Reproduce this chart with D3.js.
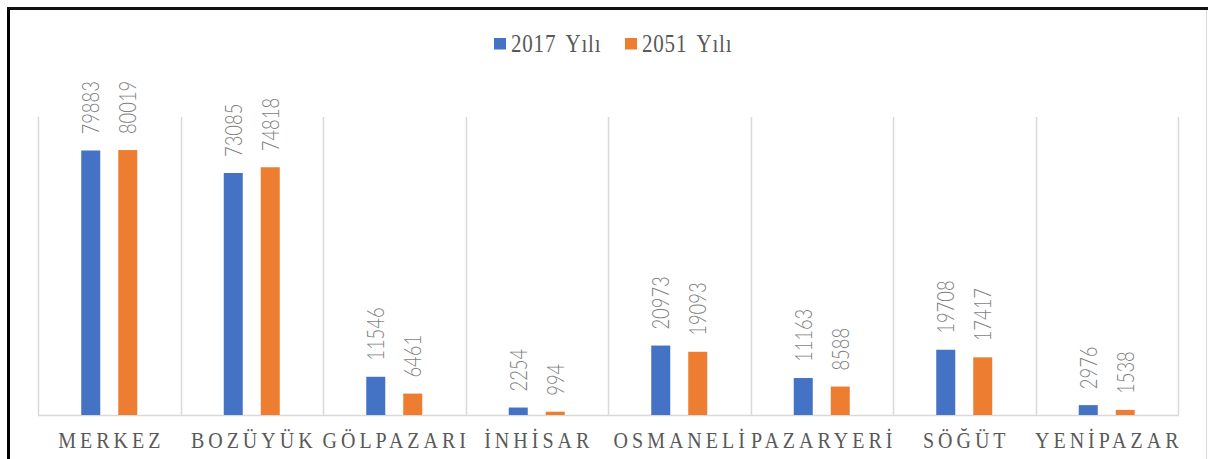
<!DOCTYPE html>
<html>
<head>
<meta charset="utf-8">
<script src="https://cdn.jsdelivr.net/npm/d3@7"></script>
<style>
  body { margin: 0; background: #fff; }
  svg { display: block; }
</style>
</head>
<body>
<svg id="chart"></svg>
<script>
const ilceler = ['MERKEZ', 'BOZÜYÜK', 'GÖLPAZARI', 'İNHİSAR', 'OSMANELİ', 'PAZARYERİ', 'SÖĞÜT', 'YENİPAZAR']
const yil2017 = [79883, 73085, 11546, 2254, 20973, 11163, 19708, 2976]
const yil2051 = [80019, 74818, 6461, 994, 19093, 8588, 17417, 1538]
const seriler = ['2017 Yılı', '2051 Yılı']
const renkler = ['#4472C4', '#ED7D31']

const width = 1208
const height = 459
const svg = d3.select('svg#chart')
  .attr('width', width)
  .attr('height', height)

// frame of the page
svg.append('line')
  .attr('x1', 8.5).attr('x2', 8.5).attr('y1', 8).attr('y2', height)
  .attr('stroke', '#000').attr('stroke-width', 3)
svg.append('line')
  .attr('x1', 7).attr('x2', width).attr('y1', 8.5).attr('y2', 8.5)
  .attr('stroke', '#111').attr('stroke-width', 3)
svg.append('line')
  .attr('x1', 1206.5).attr('x2', 1206.5).attr('y1', 10).attr('y2', height)
  .attr('stroke', '#d9d9d9').attr('stroke-width', 1)

const plot = { left: 38, right: 1178, top: 117, bottom: 415 }

const x = d3.scaleBand()
  .domain(ilceler)
  .range([plot.left, plot.right])

const y = d3.scaleLinear()
  .domain([0, 90000])
  .range([plot.bottom, plot.top])

const barW = 19
// bar left edges relative to category centre
const offset = s => s === seriler[0] ? -28 : 9

// vertical separators
svg.append('g')
  .selectAll('line')
  .data(d3.range(ilceler.length + 1))
  .join('line')
  .attr('x1', i => Math.round(plot.left + i * x.bandwidth()) + 0.5)
  .attr('x2', i => Math.round(plot.left + i * x.bandwidth()) + 0.5)
  .attr('y1', plot.top)
  .attr('y2', plot.bottom)
  .attr('stroke', '#d9d9d9')
  .attr('stroke-width', 1.5)

// base line
svg.append('line')
  .attr('x1', plot.left).attr('x2', plot.right + 1)
  .attr('y1', plot.bottom + 0.5).attr('y2', plot.bottom + 0.5)
  .attr('stroke', '#d9d9d9').attr('stroke-width', 1.5)

const rows = ilceler.map((k, i) => ({ k, vals: [yil2017[i], yil2051[i]] }))

const group = svg.append('g')
  .selectAll('g')
  .data(rows)
  .join('g')
  .attr('transform', d => 'translate(' + (x(d.k) + x.bandwidth() / 2) + ',0)')

group.selectAll('rect')
  .data(d => d.vals.map((v, j) => ({ v, s: seriler[j], j })))
  .join('rect')
  .attr('x', d => offset(d.s))
  .attr('y', d => y(d.v))
  .attr('width', barW)
  .attr('height', d => y(0) - y(d.v))
  .attr('fill', d => renkler[d.j])

// value labels, rotated
group.selectAll('text')
  .data(d => d.vals.map((v, j) => ({ v, s: seriler[j], j })))
  .join('text')
  .attr('transform', d => 'translate(' + (offset(d.s) + barW / 2) + ',' + (y(d.v) - 16) + ') rotate(-90) scale(0.8,1)')
  .attr('y', 8.5)
  .attr('text-anchor', 'start')
  .attr('font-family', 'Lato, "Open Sans", sans-serif')
  .attr('font-weight', 300)
  .attr('font-size', 23)
  .attr('fill', '#7f7f7f')
  .text(d => d.v)

// category labels
svg.append('g')
  .selectAll('text')
  .data(ilceler)
  .join('text')
  .attr('transform', d => 'translate(' + (x(d) + x.bandwidth() / 2 + 2) + ',448) scale(1,1.15)')
  .attr('text-anchor', 'middle')
  .attr('font-family', '"Liberation Serif", "Times New Roman", serif')
  .attr('font-size', 20)
  .attr('letter-spacing', 4)
  .attr('fill', '#595959')
  .text(d => d)

// legend
const legendX = [494, 625]
const legend = svg.append('g')
  .selectAll('g')
  .data(seriler)
  .join('g')
  .attr('transform', (d, i) => 'translate(' + legendX[i] + ',38)')

legend.append('rect')
  .attr('width', 12)
  .attr('height', 11.5)
  .attr('fill', (d, i) => renkler[i])

legend.append('text')
  .attr('transform', 'translate(17,13.5) scale(1,1.2)')
  .attr('font-family', '"Liberation Serif", "Times New Roman", serif')
  .attr('font-size', 21)
  .attr('letter-spacing', 0.8)
  .attr('word-spacing', 4)
  .attr('fill', '#595959')
  .text(d => d)
</script>
</body>
</html>
